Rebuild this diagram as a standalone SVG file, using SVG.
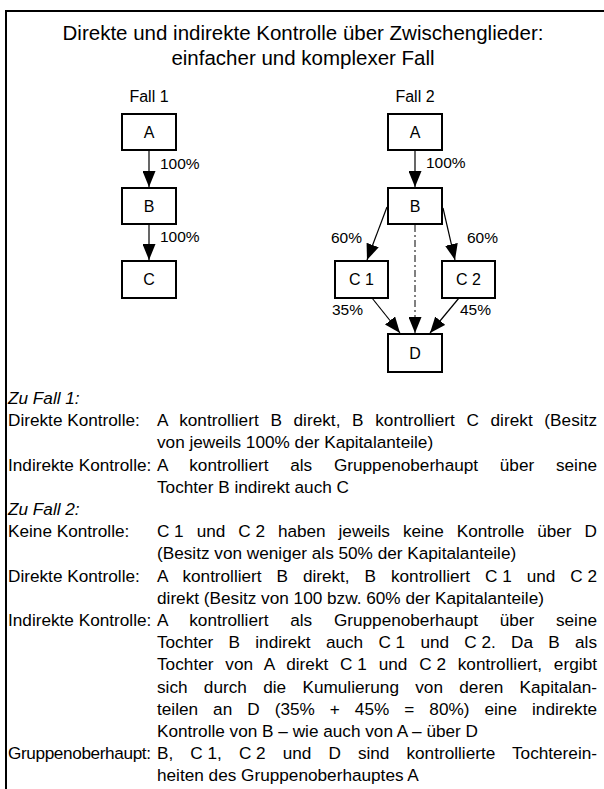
<svg xmlns="http://www.w3.org/2000/svg" width="604" height="789" viewBox="0 0 604 789">
  <defs>
    <marker id="arrow" viewBox="0 0 16 13" refX="16" refY="6.5" markerWidth="16" markerHeight="13" markerUnits="userSpaceOnUse" orient="auto">
      <path d="M0,0 L16,6.5 L0,13 Z" fill="#000"/>
    </marker>
    <style>
      text { font-family: "Liberation Sans", Arial, sans-serif; fill: #000; }
      .title { font-size: 20.5px; text-anchor: middle; }
      .case { font-size: 16px; text-anchor: middle; }
      .pct { font-size: 15.5px; }
      .pct-end { font-size: 15.5px; text-anchor: end; }
      .node rect { fill: #fff; stroke: #000; stroke-width: 2; }
      .node text { font-size: 16px; text-anchor: middle; }
      .conn line { stroke: #000; stroke-width: 1.2; fill: none; marker-end: url(#arrow); }
      .conn .dashdot { stroke-width: 1; stroke-dasharray: 7 3 2 3; }
      .body { font-size: 17.2px; }
      .head { font-style: italic; }
      .nb { word-spacing: 0; }
    </style>
  </defs>

  <!-- frame: left and top rule only -->
  <path d="M6,789 V11 H604" fill="none" stroke="#000" stroke-width="2"/>

  <!-- title -->
  <text class="title" x="303" y="40">Direkte und indirekte Kontrolle über Zwischenglieder:</text>
  <text class="title" x="303" y="65">einfacher und komplexer Fall</text>

  <text class="case" x="149" y="102">Fall 1</text>
  <text class="case" x="415" y="102">Fall 2</text>

  <!-- connectors -->
  <g id="connectors" class="conn">
    <line x1="149" y1="151" x2="149" y2="187"/>
    <line x1="149" y1="225" x2="149" y2="260"/>
    <line x1="415" y1="151" x2="415" y2="187"/>
    <line x1="387" y1="207" x2="367" y2="260"/>
    <line x1="443" y1="208" x2="455" y2="260"/>
    <line x1="372" y1="298" x2="400" y2="333"/>
    <line x1="459" y1="298" x2="430" y2="333"/>
    <line class="dashdot" x1="415" y1="225" x2="415" y2="333"/>
  </g>

  <!-- connector labels -->
  <g id="connector-labels">
    <text class="pct" x="160" y="169">100%</text>
    <text class="pct" x="160" y="242">100%</text>
    <text class="pct" x="426" y="168">100%</text>
    <text class="pct-end" x="362" y="243">60%</text>
    <text class="pct" x="467" y="243">60%</text>
    <text class="pct" x="332" y="315">35%</text>
    <text class="pct" x="460" y="315">45%</text>
  </g>

  <!-- case 1 nodes -->
  <g id="f1-A" class="node"><rect x="122" y="114" width="54" height="36"/><text x="149" y="137.7">A</text></g>
  <g id="f1-B" class="node"><rect x="122" y="188" width="54" height="36"/><text x="149" y="211.7">B</text></g>
  <g id="f1-C" class="node"><rect x="122" y="261" width="54" height="37"/><text x="149" y="285.2">C</text></g>

  <!-- case 2 nodes -->
  <g id="f2-A" class="node"><rect x="388" y="114" width="54" height="36"/><text x="415" y="137.7">A</text></g>
  <g id="f2-B" class="node"><rect x="388" y="188" width="54" height="36"/><text x="415" y="211.7">B</text></g>
  <g id="f2-C1" class="node"><rect x="335" y="261" width="53" height="37"/><text x="361.5" y="285.2">C 1</text></g>
  <g id="f2-C2" class="node"><rect x="442" y="261" width="53" height="37"/><text x="468.5" y="285.2">C 2</text></g>
  <g id="f2-D" class="node"><rect x="388" y="334" width="54" height="38"/><text x="415" y="358.7">D</text></g>

  <!-- explanations: labels at x=8, justified body column from x=157 to x=597 -->
  <g id="notes" class="body">
    <text class="head" x="8" y="404">Zu Fall 1:</text>
    <text x="8" y="426.2">Direkte Kontrolle:</text>
    <text x="157" y="426.2" style="word-spacing:6.85px" textLength="440" lengthAdjust="spacing">A kontrolliert B direkt, B kontrolliert C direkt (Besitz</text>
    <text x="157" y="448.4">von jeweils 100% der Kapitalanteile)</text>
    <text x="8" y="470.6">Indirekte Kontrolle:</text>
    <text x="157" y="470.6" style="word-spacing:17.02px" textLength="440" lengthAdjust="spacing">A kontrolliert als Gruppenoberhaupt über seine</text>
    <text x="157" y="492.8">Tochter B indirekt auch C</text>

    <text class="head" x="8" y="515">Zu Fall 2:</text>
    <text x="8" y="537.2">Keine Kontrolle:</text>
    <text x="157" y="537.2" style="word-spacing:8.37px" textLength="440" lengthAdjust="spacing"><tspan class="nb">C 1</tspan> und <tspan class="nb">C 2</tspan> haben jeweils keine Kontrolle über D</text>
    <text x="157" y="559.4">(Besitz von weniger als 50% der Kapitalanteile)</text>
    <text x="8" y="581.6">Direkte Kontrolle:</text>
    <text x="157" y="581.6" style="word-spacing:10.29px" textLength="440" lengthAdjust="spacing">A kontrolliert B direkt, B kontrolliert <tspan class="nb">C 1</tspan> und <tspan class="nb">C 2</tspan></text>
    <text x="157" y="603.8">direkt (Besitz von 100 bzw. 60% der Kapitalanteile)</text>
    <text x="8" y="626">Indirekte Kontrolle:</text>
    <text x="157" y="626" style="word-spacing:17.02px" textLength="440" lengthAdjust="spacing">A kontrolliert als Gruppenoberhaupt über seine</text>
    <text x="157" y="648.2" style="word-spacing:10.52px" textLength="440" lengthAdjust="spacing">Tochter B indirekt auch <tspan class="nb">C 1</tspan> und <tspan class="nb">C 2</tspan>. Da B als</text>
    <text x="157" y="670.4" style="word-spacing:6.94px" textLength="440" lengthAdjust="spacing">Tochter von A direkt <tspan class="nb">C 1</tspan> und <tspan class="nb">C 2</tspan> kontrolliert, ergibt</text>
    <text x="157" y="692.6" style="word-spacing:11.51px" textLength="440" lengthAdjust="spacing">sich durch die Kumulierung von deren Kapitalan-</text>
    <text x="157" y="714.8" style="word-spacing:10.22px" textLength="440" lengthAdjust="spacing">teilen an D (35% + 45% = 80%) eine indirekte</text>
    <text x="157" y="737">Kontrolle von B – wie auch von A – über D</text>
    <text x="8" y="759.2" textLength="143" lengthAdjust="spacing">Gruppenoberhaupt:</text>
    <text x="157" y="759.2" style="word-spacing:12.3px" textLength="440" lengthAdjust="spacing">B, <tspan class="nb">C 1</tspan>, <tspan class="nb">C 2</tspan> und D sind kontrollierte Tochterein-</text>
    <text x="157" y="781.4">heiten des Gruppenoberhauptes A</text>
  </g>
</svg>
